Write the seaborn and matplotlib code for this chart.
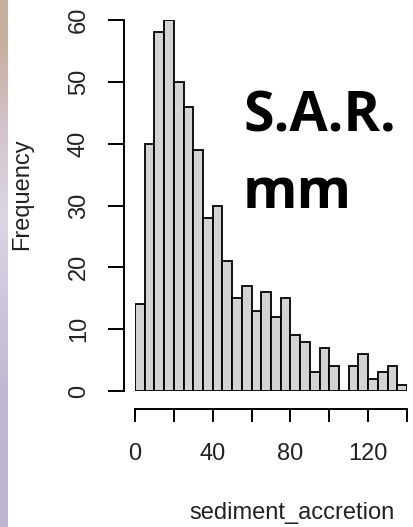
import matplotlib
matplotlib.use("Agg")
import matplotlib.pyplot as plt
import seaborn as sns
import numpy as np

# histogram of sediment accretion (bin width 5, 0..140)
bin_edges = list(range(0, 145, 5))
counts = [14, 40, 58, 60, 50, 46, 39, 28, 30, 21, 15, 17, 13, 16,
          12, 15, 9, 8, 3, 7, 4, 0, 4, 6, 2, 3, 4, 1]
x_ticks = [0, 20, 40, 60, 80, 100, 120, 140]
x_ticklabels = ["0", "", "40", "", "80", "", "120", ""]
y_ticks = [0, 10, 20, 30, 40, 50, 60]

centers = [(a + b) / 2 for a, b in zip(bin_edges[:-1], bin_edges[1:])]

sns.set_style("white")
plt.rcParams["font.family"] = ["Liberation Sans", "DejaVu Sans"]

W, H = 413, 527
fig = plt.figure(figsize=(W / 100, H / 100), dpi=100)

# slide background strip on the left
strip = fig.add_axes([0, 0, 8 / W, 1])
grad = np.array([[200, 174, 156], [212, 196, 206], [220, 213, 228],
                 [208, 196, 220], [194, 182, 210], [192, 180, 208]]) / 255
strip.imshow(grad[:, None, :], aspect="auto", interpolation="bilinear",
             extent=[0, 1, 0, 1])
strip.axis("off")

# plot region in pixels: x 135..407, y 20..391
ax = fig.add_axes([135 / W, (H - 391) / H, 272 / W, 371 / H])
sns.histplot(x=centers, weights=counts, bins=bin_edges, ax=ax,
             color="#d3d3d3", edgecolor="black", linewidth=1.3, alpha=1)
ax.set_xlim(0, 140)
ax.set_ylim(0, 60)
ax.set_xlabel("")
ax.set_ylabel("")

for s in ["top", "right"]:
    ax.spines[s].set_visible(False)
ax.spines["left"].set_position(("outward", 8))
ax.spines["bottom"].set_position(("outward", 13))
ax.spines["left"].set_bounds(0, 60)
ax.spines["bottom"].set_bounds(0, 140)
for s in ["left", "bottom"]:
    ax.spines[s].set_linewidth(1.4)
    ax.spines[s].set_color("black")

ax.set_xticks(x_ticks)
ax.set_xticklabels(x_ticklabels)
ax.set_yticks(y_ticks)
ax.set_yticklabels([str(v) for v in y_ticks], rotation=90, va="center")
ax.tick_params(axis="x", length=9.5, width=1.4, pad=15, labelsize=17,
               colors="black", labelcolor="#222222")
ax.tick_params(axis="y", length=11.5, width=1.4, pad=13, labelsize=17,
               colors="black", labelcolor="#222222")
ax.tick_params(bottom=True, left=True)

fig.text(22 / W, 1 - 194 / H, "Frequency", rotation=90, ha="center",
         va="center", fontsize=17, color="#222222")
fig.text(292 / W, 1 - 513 / H, "sediment_accretion", ha="center",
         va="center", fontsize=17, color="#222222")

fig.text(243 / W, 1 - 132 / H, "S.A.R.", ha="left", va="baseline",
         fontsize=40, fontweight="bold", family="Open Sans", color="black")
fig.text(243 / W, 1 - 208 / H, "mm", ha="left", va="baseline",
         fontsize=40, fontweight="bold", family="Open Sans", color="black")

fig.savefig("out.png", dpi=100, facecolor="white")
